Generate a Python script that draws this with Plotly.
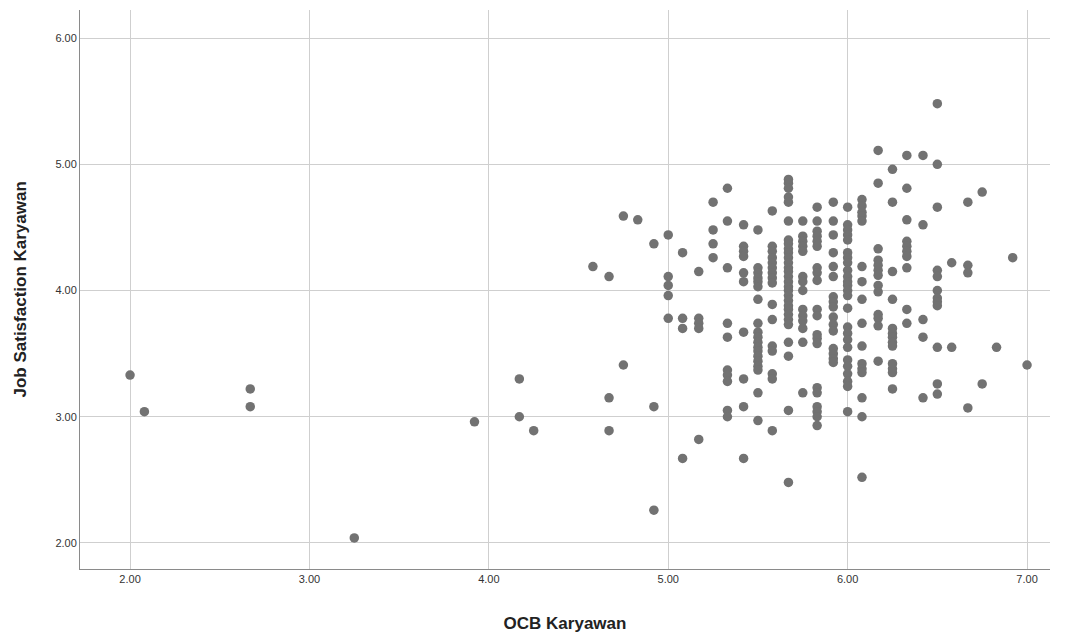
import plotly.graph_objects as go

# Column x-values (OCB Karyawan, steps of 1/12) and the y-values (Job Satisfaction) read per column
col_x = [2.00, 2.08, 2.67, 3.25, 3.92, 4.17, 4.25, 4.58, 4.67, 4.75, 4.83, 4.92,
         5.00, 5.08, 5.17, 5.25, 5.33, 5.42, 5.50, 5.58, 5.67, 5.75, 5.83, 5.92,
         6.00, 6.08, 6.17, 6.25, 6.33, 6.42, 6.50, 6.58, 6.67, 6.75, 6.83, 6.92, 7.00]

col_y = [
    [3.33],
    [3.04],
    [3.22, 3.08],
    [2.04],
    [2.96],
    [3.30, 3.00],
    [2.89],
    [4.19],
    [4.11, 3.15, 2.89],
    [4.59, 3.41],
    [4.56],
    [4.37, 3.08, 2.26],
    [4.44, 4.11, 4.04, 3.96, 3.78],
    [4.30, 3.78, 3.70, 2.67],
    [4.15, 3.78, 3.74, 3.70, 2.82],
    [4.70, 4.48, 4.37, 4.26],
    [4.81, 4.55, 4.18, 3.74, 3.63, 3.37, 3.33, 3.28, 3.05, 3.00],
    [4.52, 4.35, 4.31, 4.27, 4.14, 4.07, 3.67, 3.30, 3.08, 2.67],
    [4.48, 4.18, 4.14, 4.10, 4.07, 4.03, 3.93, 3.74, 3.67, 3.63, 3.59, 3.55,
     3.52, 3.48, 3.44, 3.40, 3.37, 3.19, 2.97],
    [4.63, 4.35, 4.31, 4.26, 4.22, 4.18, 4.14, 4.10, 4.06, 3.89, 3.77, 3.56,
     3.52, 3.34, 3.30, 2.89],
    [4.88, 4.85, 4.81, 4.74, 4.70, 4.55, 4.40, 4.37, 4.33, 4.30, 4.26, 4.22,
     4.18, 4.15, 4.11, 4.07, 4.03, 4.00, 3.96, 3.92, 3.88, 3.85, 3.81, 3.77,
     3.73, 3.59, 3.48, 3.05, 2.48],
    [4.55, 4.43, 4.39, 4.35, 4.31, 4.11, 4.07, 4.00, 3.85, 3.80, 3.76, 3.70,
     3.59, 3.19],
    [4.66, 4.55, 4.47, 4.43, 4.39, 4.35, 4.18, 4.14, 4.08, 3.85, 3.80, 3.65,
     3.62, 3.58, 3.23, 3.19, 3.08, 3.04, 3.00, 2.93],
    [4.70, 4.55, 4.44, 4.30, 4.19, 4.11, 3.95, 3.91, 3.87, 3.79, 3.73, 3.68,
     3.54, 3.50, 3.46, 3.43],
    [4.66, 4.52, 4.48, 4.44, 4.40, 4.30, 4.26, 4.22, 4.16, 4.11, 4.07, 4.04,
     4.00, 3.96, 3.86, 3.71, 3.66, 3.61, 3.55, 3.45, 3.40, 3.34, 3.28, 3.24,
     3.04],
    [4.72, 4.67, 4.62, 4.59, 4.55, 4.19, 4.07, 3.93, 3.74, 3.56, 3.42, 3.38,
     3.35, 3.15, 3.00, 2.52],
    [5.11, 4.85, 4.33, 4.24, 4.20, 4.16, 4.12, 4.04, 3.99, 3.81, 3.78, 3.72, 3.44],
    [4.96, 4.70, 4.15, 3.93, 3.70, 3.66, 3.63, 3.59, 3.56, 3.42, 3.38, 3.35, 3.22],
    [5.07, 4.81, 4.56, 4.39, 4.35, 4.31, 4.27, 4.18, 3.85, 3.74],
    [5.07, 4.52, 3.77, 3.63, 3.15],
    [5.48, 5.00, 4.66, 4.16, 4.11, 4.00, 3.94, 3.91, 3.88, 3.55, 3.26, 3.18],
    [4.22, 3.55],
    [4.70, 4.20, 4.14, 3.07],
    [4.78, 3.26],
    [3.55],
    [4.26],
    [3.41],
]

tick_vals_x = [2, 3, 4, 5, 6, 7]
tick_text_x = ["2.00", "3.00", "4.00", "5.00", "6.00", "7.00"]
tick_vals_y = [2, 3, 4, 5, 6]
tick_text_y = ["2.00", "3.00", "4.00", "5.00", "6.00"]

xs, ys = [], []
for cx, cy in zip(col_x, col_y):
    for v in cy:
        xs.append(cx)
        ys.append(v)

fig = go.Figure()
fig.add_trace(go.Scatter(
    x=xs, y=ys, mode="markers",
    marker=dict(color="#727272", size=9.5, line=dict(width=0)),
    showlegend=False,
))

axis_common = dict(
    showgrid=True, gridcolor="#cfcfcf", gridwidth=1,
    zeroline=False, showline=True, linecolor="#8a8a8a", linewidth=1,
    ticks="", tickfont=dict(family="Liberation Sans, Arial", size=11, color="#333333"),
)

title_font = dict(family="Liberation Sans, Arial", size=17, color="#222222")

fig.update_layout(
    width=1065, height=630,
    margin=dict(l=72, r=23, t=2, b=69),
    paper_bgcolor="white", plot_bgcolor="white",
    xaxis=dict(range=[1.721, 7.128], tickvals=tick_vals_x, ticktext=tick_text_x,
               title=dict(text="<b>OCB Karyawan</b>", standoff=32, font=title_font),
               **axis_common),
    yaxis=dict(range=[1.794, 6.222], tickvals=tick_vals_y, ticktext=tick_text_y,
               **axis_common),
    annotations=[dict(
        text="<b>Job Satisfaction Karyawan</b>", textangle=-90,
        xref="paper", yref="paper", x=0, y=0.5, xanchor="center", yanchor="middle",
        xshift=-60, showarrow=False, font=title_font,
    )],
)

fig.write_html("out.html")
